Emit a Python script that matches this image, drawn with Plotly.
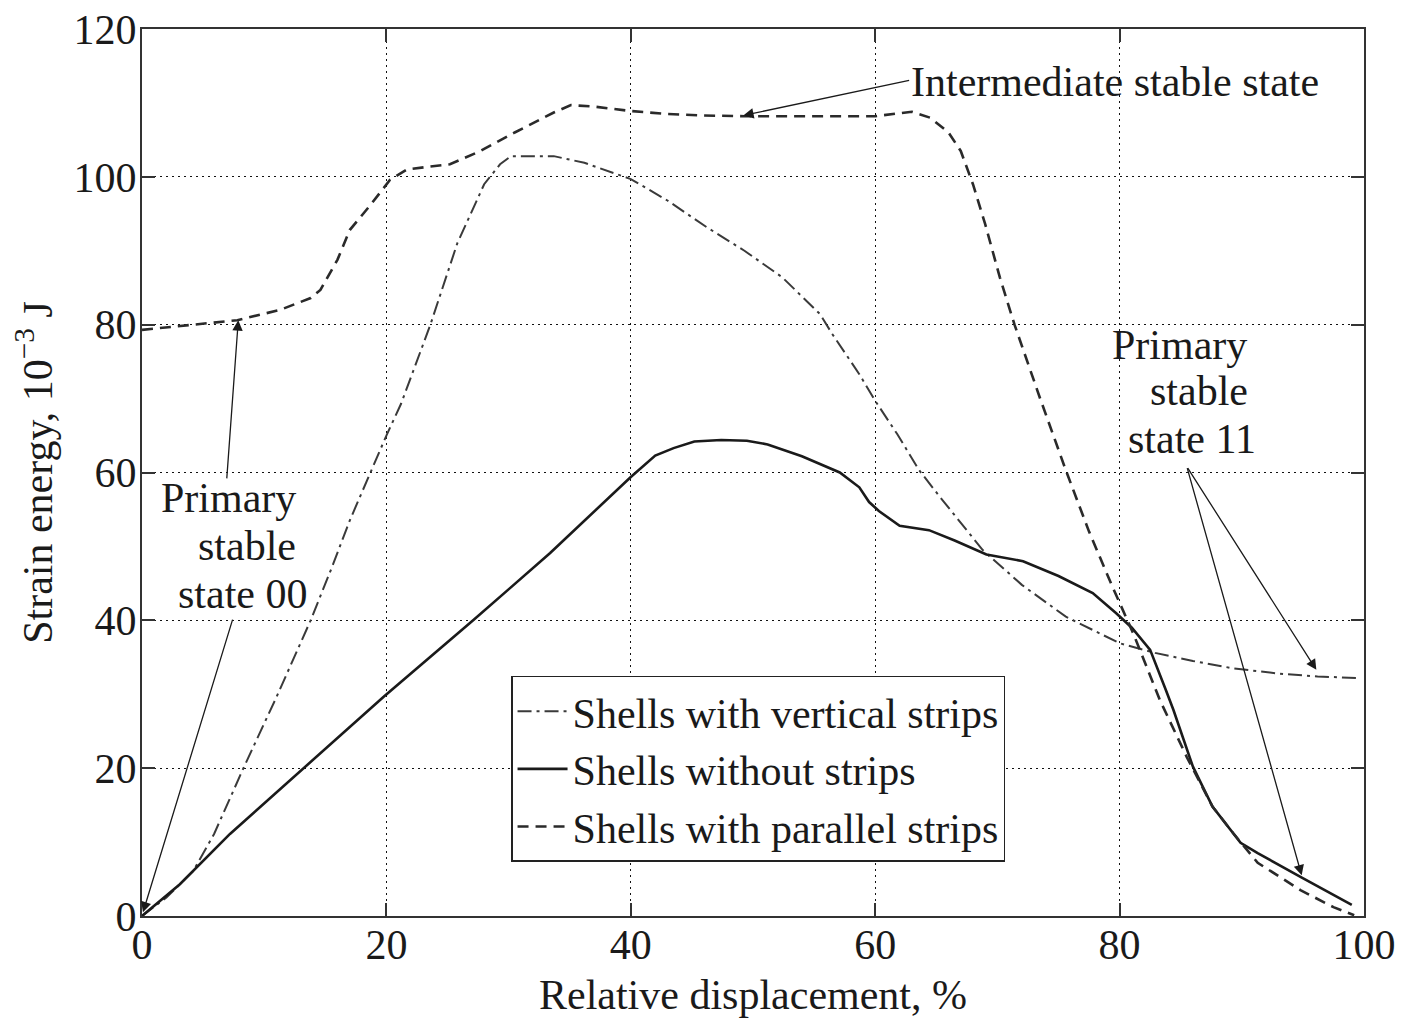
import plotly.graph_objects as go

# ---- data ----
x_vertical = [0, 2, 4.2, 5.9, 8.3, 11, 13.8, 15.5, 17, 18.7, 20, 21.2, 23.6, 25.8, 28, 29.3, 30.2,
              33.7, 36.2, 40, 43, 46.2, 49.3, 52.4, 55.5, 56.5, 58.7, 60, 61.8, 63.6, 65.2, 68.8,
              72, 75.6, 80, 82.9, 86, 89.3, 93, 96.2, 99.6]
y_vertical = [0, 2.5, 6.1, 11.1, 20, 29.6, 40, 47, 53.5, 60, 65, 69.3, 80, 91, 99, 101.7, 102.8,
              102.8, 101.9, 99.7, 96.8, 93.2, 90, 86.4, 81.4, 78.7, 73.3, 69.7, 65.2, 60.3, 56.9, 49.5,
              44.8, 40.5, 36.9, 35.6, 34.5, 33.5, 32.8, 32.4, 32.2]

x_without = [0, 3.1, 7.2, 13.2, 19.8, 27.1, 33.4, 40, 42, 43.5, 45.2, 47.4, 49.5, 51.2, 54, 57.1,
             58.7, 59.5, 60.3, 62, 64.4, 66.5, 69.1, 72.1, 75, 77.8, 79.7, 81, 82.5, 83.8, 84.4,
             86, 87.6, 89.9, 91.3, 94.8, 99]
y_without = [0, 4.3, 11.1, 19.9, 29.7, 40, 49.1, 59.4, 62.3, 63.3, 64.2, 64.4, 64.3, 63.8, 62.2, 60,
             58, 56, 54.8, 52.8, 52.2, 50.8, 48.9, 48, 46, 43.7, 41, 39, 36, 30.5, 27.9,
             20.2, 14.8, 9.9, 8.5, 5.3, 1.5]

x_parallel = [0, 4.5, 7.8, 11.3, 13.8, 14.6, 16, 17, 18.7, 20.3, 21.7, 23.6, 25.2, 27.7, 30.5, 33.7,
              35.1, 37, 40, 43, 46, 49.3, 53, 56, 60, 63, 64.5, 66, 67, 68, 69, 70.2, 71.4, 73.5,
              75.6, 77.5, 79.4, 81.1, 83.3, 85.5, 87.6, 89.3, 91.3, 94.8, 97.5, 99.2]
y_parallel = [79.3, 80, 80.6, 82, 83.6, 84.7, 88.8, 92.8, 96.2, 99.6, 101, 101.4, 101.7, 103.5, 106, 108.7,
              109.7, 109.5, 108.9, 108.5, 108.3, 108.2, 108.2, 108.2, 108.2, 108.8, 108, 106, 103.5, 99, 93.6, 86.4, 80, 70,
              60.3, 52, 44.6, 38.3, 29.2, 21.5, 14.8, 11.2, 7.2, 3.5, 1.2, 0.1]

series_names = ["Shells with vertical strips", "Shells without strips", "Shells with parallel strips"]
x_ticks = [0, 20, 40, 60, 80, 100]
y_ticks = [0, 20, 40, 60, 80, 100, 120]

FONT = "Liberation Serif, Times New Roman, serif"
FS = 42
INK = "#1a1a1a"

fig = go.Figure()
fig.add_trace(go.Scatter(x=x_vertical, y=y_vertical, mode="lines", name=series_names[0],
                         line=dict(color="#3a3a3a", width=2, dash="14px,5px,3px,5px")))
fig.add_trace(go.Scatter(x=x_without, y=y_without, mode="lines", name=series_names[1],
                         line=dict(color=INK, width=2.6)))
fig.add_trace(go.Scatter(x=x_parallel, y=y_parallel, mode="lines", name=series_names[2],
                         line=dict(color="#2a2a2a", width=2.6, dash="11px,7px")))

axis_common = dict(
    showline=True, linecolor="#333", linewidth=2, mirror="ticks",
    ticks="inside", ticklen=13, tickwidth=2, tickcolor="#333",
    showgrid=True, gridcolor="#111", gridwidth=1.1, griddash="2px,4px",
    zeroline=False, automargin=False, tickfont=dict(family=FONT, size=FS, color=INK),
)

fig.update_xaxes(range=[0, 100], tickvals=x_ticks, ticktext=[str(v) for v in x_ticks],
                 ticklabelstandoff=-9,
                 title=dict(text="Relative displacement, %", font=dict(family=FONT, size=FS, color=INK), standoff=12),
                 **axis_common)
fig.update_yaxes(range=[0, 120], tickvals=y_ticks, ticktext=[str(v) for v in y_ticks],
                 ticklabelstandoff=-5,
                 title=dict(text="Strain energy, 10<sup>\u22123</sup> J", font=dict(family=FONT, size=FS, color=INK), standoff=8),
                 **axis_common)

# ---- annotations: arrows (tail -> tip) ----
arrows = [
    (62.9, 113.1, 49.2, 108.3),   # intermediate stable state
    (6.93, 59.0, 7.88, 80.6),     # primary 00 -> parallel
    (7.45, 40.3, 0.08, 0.5),      # primary 00 -> origin
    (85.5, 60.8, 96.1, 33.3),     # primary 11 -> vertical
    (85.5, 60.8, 94.9, 5.5),      # primary 11 -> without
]
for tx, ty, hx, hy in arrows:
    fig.add_annotation(x=hx, y=hy, ax=tx, ay=ty, xref="x", yref="y", axref="x", ayref="y",
                       text="", showarrow=True, arrowhead=2, arrowsize=1.6, arrowwidth=1.3,
                       arrowcolor=INK, standoff=0, startstandoff=0)

labels = [
    ("Intermediate stable state", 62.8, 112.8, "left"),
    ("Primary", 7.04, 56.5, "center"),
    ("stable", 8.6, 50.0, "center"),
    ("state 00", 8.26, 43.6, "center"),
    ("Primary", 84.9, 77.2, "center"),
    ("stable", 86.5, 71.0, "center"),
    ("state 11", 85.9, 64.6, "center"),
]
for txt, lx, ly, anc in labels:
    fig.add_annotation(x=lx, y=ly, xref="x", yref="y", text=txt, showarrow=False,
                       xanchor=anc, yanchor="middle",
                       font=dict(family=FONT, size=FS, color=INK))

fig.update_layout(
    width=1407, height=1023,
    margin=dict(l=142, r=43, t=29, b=107, autoexpand=False),
    paper_bgcolor="white", plot_bgcolor="white",
    font=dict(family=FONT, size=FS, color=INK),
    legend=dict(x=0.302, y=0.2706, xanchor="left", yanchor="top",
                bgcolor="white", bordercolor="#222", borderwidth=1.5,
                font=dict(family=FONT, size=FS, color=INK),
                itemwidth=50, tracegroupgap=0),
    showlegend=True,
)

fig.write_html("out.html")
